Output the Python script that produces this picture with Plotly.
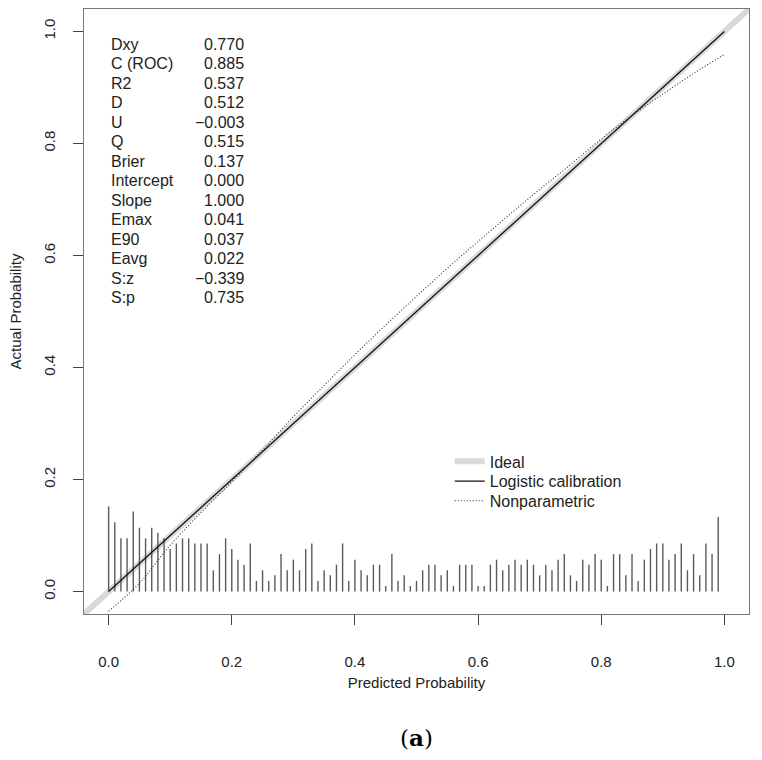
import plotly.graph_objects as go

# ---------------- data ----------------
stat_names = ["Dxy", "C (ROC)", "R2", "D", "U", "Q", "Brier", "Intercept",
              "Slope", "Emax", "E90", "Eavg", "S:z", "S:p"]
stat_values = ["0.770", "0.885", "0.537", "0.512", "\u22120.003", "0.515", "0.137",
               "0.000", "1.000", "0.041", "0.037", "0.022", "\u22120.339", "0.735"]

ideal_x = [-0.04, 1.04]
ideal_y = [-0.04, 1.04]

logistic_x = [0.0, 1.0]
logistic_y = [0.0, 1.0]

nonpar_x = [0.0, 0.05, 0.10, 0.15, 0.20, 0.25, 0.30, 0.35, 0.40, 0.45, 0.50,
            0.55, 0.60, 0.65, 0.70, 0.75, 0.80, 0.85, 0.90, 0.95, 1.0]
nonpar_y = [-0.035, 0.015, 0.083, 0.141, 0.196, 0.253, 0.312, 0.368, 0.423, 0.476, 0.527,
            0.577, 0.625, 0.672, 0.718, 0.762, 0.808, 0.850, 0.888, 0.925, 0.959]

spike_x = [i / 100 for i in range(100)]
spike_h = [0.152, 0.124, 0.095, 0.095, 0.143, 0.114, 0.095, 0.114, 0.105, 0.095,
           0.076, 0.086, 0.095, 0.095, 0.086, 0.086, 0.086, 0.038, 0.067, 0.095,
           0.076, 0.057, 0.048, 0.086, 0.019, 0.038, 0.019, 0.029, 0.067, 0.038,
           0.057, 0.038, 0.076, 0.086, 0.019, 0.038, 0.029, 0.048, 0.086, 0.019,
           0.057, 0.038, 0.029, 0.048, 0.048, 0.010, 0.067, 0.019, 0.029, 0.010,
           0.019, 0.038, 0.048, 0.048, 0.029, 0.038, 0.010, 0.048, 0.048, 0.048,
           0.010, 0.010, 0.048, 0.057, 0.038, 0.048, 0.057, 0.048, 0.057, 0.048,
           0.029, 0.048, 0.038, 0.057, 0.067, 0.029, 0.019, 0.057, 0.048, 0.067,
           0.057, 0.010, 0.067, 0.067, 0.029, 0.067, 0.019, 0.057, 0.076, 0.086,
           0.086, 0.057, 0.067, 0.086, 0.038, 0.067, 0.029, 0.086, 0.067, 0.133]

tick_vals = [0.0, 0.2, 0.4, 0.6, 0.8, 1.0]
tick_text = ["0.0", "0.2", "0.4", "0.6", "0.8", "1.0"]

FONT = "Liberation Sans, Arial, Helvetica, sans-serif"

# spikes as one line trace with breaks
sx, sy = [], []
for x, h in zip(spike_x, spike_h):
    sx += [x, x, None]
    sy += [0, h, None]

fig = go.Figure()
fig.add_trace(go.Scatter(x=ideal_x, y=ideal_y, mode="lines", name="Ideal", legend="legend",
                         line=dict(color="#d9d9d9", width=6)))
fig.add_trace(go.Scatter(x=sx, y=sy, mode="lines", showlegend=False, hoverinfo="skip",
                         line=dict(color="#5a5a5a", width=1.4)))
fig.add_trace(go.Scatter(x=logistic_x, y=logistic_y, mode="lines", name="Logistic calibration",
                         legend="legend2", line=dict(color="#111111", width=1.3)))
fig.add_trace(go.Scatter(x=nonpar_x, y=nonpar_y, mode="lines", name="Nonparametric",
                         legend="legend3",
                         line=dict(color="#333333", width=1.1, dash="1px,2px", shape="spline")))

# statistics block
y0 = 0.977
dy = 0.0348
for i, (n, v) in enumerate(zip(stat_names, stat_values)):
    yy = y0 - i * dy
    fig.add_annotation(x=0.0, y=yy, xref="x", yref="y", text=n, showarrow=False,
                       xanchor="left", yanchor="middle",
                       font=dict(family=FONT, size=16, color="#222"))
    fig.add_annotation(x=0.2234, y=yy, xref="x", yref="y", text=v, showarrow=False,
                       xanchor="right", yanchor="middle",
                       font=dict(family=FONT, size=16, color="#222"))

# caption
fig.add_annotation(x=0.5, y=(760 - 146 - 737) / (760 - 9 - 146), xref="paper", yref="paper",
                   text="(<b>a</b>)", showarrow=False, xanchor="center", yanchor="middle",
                   font=dict(family="DejaVu Serif, serif", size=23, color="#000"))

axis_common = dict(
    range=[-0.04, 1.04], tickmode="array", tickvals=tick_vals, ticktext=tick_text,
    showgrid=False, zeroline=False, showline=True, mirror=True,
    linecolor="#777777", linewidth=1.2, ticks="outside", ticklen=10, tickwidth=1.2,
    tickcolor="#444444", tickfont=dict(family=FONT, size=15, color="#222"),
    automargin=False,
)

leg_common = dict(xanchor="left", yanchor="top", bgcolor="rgba(0,0,0,0)", borderwidth=0,
                  font=dict(family=FONT, size=16, color="#222"), itemwidth=30)

fig.update_layout(
    width=762, height=760,
    margin=dict(l=84, r=13, t=9, b=146),
    paper_bgcolor="white", plot_bgcolor="white",
    showlegend=True,
    legend=dict(x=0.55, y=0.2803, **leg_common),
    legend2=dict(x=0.55, y=0.2476, **leg_common),
    legend3=dict(x=0.55, y=0.2152, **leg_common),
    xaxis=dict(**axis_common, ticklabelstandoff=24,
               title=dict(text="Predicted Probability", standoff=8,
                          font=dict(family=FONT, size=15, color="#222"))),
    yaxis=dict(**axis_common, tickangle=-90, ticklabelstandoff=12,
               title=dict(text="Actual Probability", standoff=15,
                          font=dict(family=FONT, size=15, color="#222"))),
)

fig.write_html("out.html")
